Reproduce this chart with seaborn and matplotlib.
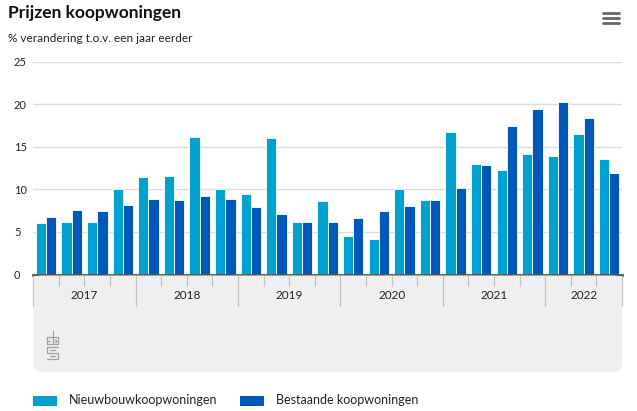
import numpy as np
import pandas as pd
import matplotlib
matplotlib.use("Agg")
import matplotlib.pyplot as plt
import seaborn as sns
from matplotlib.patches import FancyBboxPatch, Rectangle
from matplotlib.lines import Line2D

# ── Data ─────────────────────────────────────────────────────────────────────

years = ["2017", "2018", "2019", "2020", "2021", "2022"]
quarters = [f"{y}K{q}" for y in years for q in range(1, 5)][:23]

nieuwbouw = [6.1, 6.2, 6.2, 10.1, 11.5, 11.6, 16.2, 10.1,
             9.5, 16.0, 6.2, 8.6, 4.5, 4.2, 10.1, 8.7,
             16.7, 13.0, 12.3, 14.1, 13.9, 16.5, 13.6]
bestaand = [6.8, 7.6, 7.5, 8.2, 8.9, 8.8, 9.2, 8.9,
            7.9, 7.1, 6.2, 6.2, 6.6, 7.5, 8.1, 8.8,
            10.2, 12.9, 17.4, 19.5, 20.3, 18.4, 11.9]

series_names = ["Nieuwbouwkoopwoningen", "Bestaande koopwoningen"]
colors = ["#00a1cd", "#0058b8"]
y_ticks = [0, 5, 10, 15, 20, 25]

df = pd.DataFrame({
    "kwartaal": quarters * 2,
    "reeks": [series_names[0]] * len(quarters) + [series_names[1]] * len(quarters),
    "waarde": nieuwbouw + bestaand,
})

# ── Figure ───────────────────────────────────────────────────────────────────

sns.set_style("white")
plt.rcParams["font.family"] = ["Lato", "DejaVu Sans"]

W, H = 637, 411
fig = plt.figure(figsize=(W / 100, H / 100), dpi=100)

def fx(px):
    return px / W

def fy(py):
    return 1 - py / H

x0, x1 = 33.3, 622.0
y_top, y_zero = 61.7, 274.5
ax = fig.add_axes([fx(x0), fy(y_zero), fx(x1) - fx(x0), fy(y_top) - fy(y_zero)])

sns.barplot(data=df, x="kwartaal", y="waarde", hue="reeks", palette=colors,
            saturation=1, width=0.8, edgecolor="white", linewidth=0.6,
            ax=ax, legend=False)

n = len(quarters)
ax.set_xlim(-0.5, n - 0.5)
ax.set_ylim(0, 25)
ax.set_yticks(y_ticks)
ax.set_yticklabels([str(t) for t in y_ticks], fontsize=8, color="#222222")
ax.tick_params(axis="y", length=0, pad=14)
for lab in ax.get_yticklabels():
    lab.set_horizontalalignment("left")
ax.set_xticks([])
ax.set_xlabel("")
ax.set_ylabel("")
for t in y_ticks[1:]:
    ax.axhline(t, color="#dcdcdc", lw=1, zorder=0)
for s in ["top", "right", "left"]:
    ax.spines[s].set_visible(False)
ax.spines["bottom"].set_color("#555555")
ax.spines["bottom"].set_linewidth(2)
ax.spines["bottom"].set_zorder(5)

# ── Grey category strip below the axis ───────────────────────────────────────

strip_bottom = 372
bx = fig.add_axes([fx(x0), fy(strip_bottom), fx(x1) - fx(x0), fy(y_zero + 1) - fy(strip_bottom)])
bx.set_xlim(-0.5, n - 0.5)
strip_h = strip_bottom - (y_zero + 1)
bx.set_ylim(strip_h, 0)
bx.axis("off")
px_per_group = (x1 - x0) / n
bx.add_patch(FancyBboxPatch((-0.5, 0), n, strip_h,
                            boxstyle="round,pad=0,rounding_size=0.3",
                            mutation_aspect=px_per_group,
                            facecolor="#efefef", edgecolor="none", clip_on=False))
bx.add_patch(Rectangle((-0.5, 0), n, 30, facecolor="#efefef", edgecolor="none"))

for i in range(n + 1):
    long_line = (i % 4 == 0) or i == n
    bx.plot([i - 0.5, i - 0.5], [0, 30 if long_line else 10],
            color="#c4c4c4", lw=0.9, clip_on=False)

for k, y in enumerate(years):
    first = 4 * k
    last = min(4 * k + 3, n - 1)
    bx.text((first + last) / 2, 20, y, ha="center", va="center",
            fontsize=8.5, color="#222222")

# CBS logo (simple outline)
logo_c = "#a0a0a0"
segs = [
    [(47, 337), (47, 344), (52, 344)], [(47, 337), (52, 337)],
    [(47, 340.5), (50, 340.5)],
    [(53, 331), (53, 344), (58, 344), (58, 337), (53, 337)],
    [(55, 340), (56, 340), (56, 342), (55, 342)],
    [(58, 347), (47, 347), (47, 353), (58, 353), (58, 359), (47, 359)],
    [(55, 350), (50, 350)], [(50, 356), (55, 356)],
]
for seg in segs:
    xs = [fx(p[0]) for p in seg]
    ys = [fy(p[1]) for p in seg]
    fig.add_artist(Line2D(xs, ys, color=logo_c, lw=0.9))

# ── Titles and menu icon ─────────────────────────────────────────────────────

fig.text(fx(8), fy(13), "Prijzen koopwoningen", fontsize=12.5, fontweight="bold",
         color="#111111", va="center", ha="left")
fig.text(fx(8), fy(38), "% verandering t.o.v. een jaar eerder", fontsize=8.5,
         color="#222222", va="center", ha="left")
for yy in [13, 18, 23]:
    fig.add_artist(Line2D([fx(603), fx(619)], [fy(yy), fy(yy)],
                          color="#666666", lw=2))

# ── Legend ───────────────────────────────────────────────────────────────────

leg_items = [(33, 69), (240, 276)]
for (px, tx), name, c in zip(leg_items, series_names, colors):
    fig.add_artist(Rectangle((fx(px), fy(406)), fx(24), fy(396) - fy(406),
                             facecolor=c, edgecolor="none"))
    fig.text(fx(tx), fy(400), name, fontsize=9, color="#222222",
             va="center", ha="left")

fig.savefig("out.png", dpi=100)
